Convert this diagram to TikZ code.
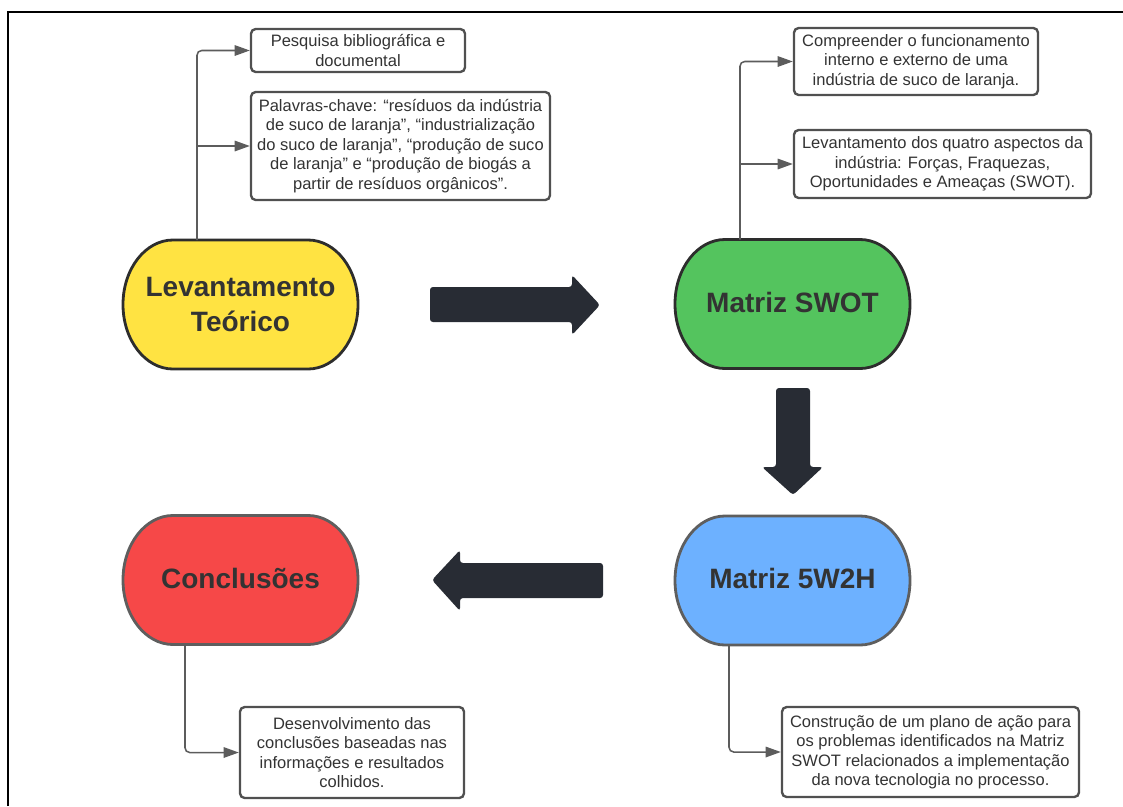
\documentclass[tikz,border=0pt]{standalone}
\usepackage{fontspec}
\setmainfont{Liberation Sans}
\usetikzlibrary{arrows.meta,calc,backgrounds}
\definecolor{ylw}{HTML}{FFE342}
\definecolor{grn}{HTML}{54C45E}
\definecolor{blu}{HTML}{6DB1FF}
\definecolor{rd}{HTML}{F64848}
\definecolor{darkborder}{HTML}{2D2D2D}
\definecolor{grayborder}{HTML}{5E5E5E}
\definecolor{txt}{HTML}{333333}
\definecolor{boxgray}{HTML}{505050}
\definecolor{conngray}{HTML}{5C5C5C}
\definecolor{arrowdark}{HTML}{282C34}
\newcommand\termbg[3]{%
  \begin{pgfonlayer}{background}
  \filldraw[fill=#2,draw=#3,line width=2.4pt]
    ($(#1.north west)+(50,0)$) -- ($(#1.north east)+(-50,0)$)
    arc[start angle=90,end angle=-90,x radius=1.5cm,y radius=1.935cm]
    -- ($(#1.south west)+(50,0)$)
    arc[start angle=270,end angle=90,x radius=1.5cm,y radius=1.935cm] -- cycle;
  \end{pgfonlayer}}
\begin{document}
\begin{tikzpicture}[x=0.03cm,y=-0.03cm,
  smallbox/.style={draw=boxgray,line width=2pt,rounded corners=4pt,fill=white,text=txt,
    align=center,font=\fontsize{14.1}{16.6}\selectfont,inner sep=0pt},
  big/.style={text=txt,align=center,font=\bfseries\fontsize{23.9}{29.9}\selectfont,
    inner sep=0pt,outer sep=0pt,minimum width=7.05cm,minimum height=3.87cm},
  conn/.style={draw=conngray,line width=1.3pt,rounded corners=4pt,
    -{Triangle[length=13pt,width=9pt]}},
  blockarrow/.style={fill=arrowdark,rounded corners=2.5pt},
]
\useasboundingbox (0,0) rectangle (1123,806);
\draw[line width=1.7pt] (8,806) -- (8,12) -- (1123,12);

% main stages
\node[big] (yel) at (240.5,304.5) {Levantamento\\Teórico};
\node[big] (gre) at (792.5,304) {\raisebox{3.4pt}{Matriz SWOT}};
\node[big] (blue) at (792.5,580.5) {\raisebox{3pt}{Matriz 5W2H}};
\node[big] (red) at (240.5,580) {\raisebox{3.4pt}{Conclusões}};
\termbg{yel}{ylw}{darkborder}
\termbg{gre}{grn}{darkborder}
\termbg{blue}{blu}{grayborder}
\termbg{red}{rd}{grayborder}

% detail boxes
\node[smallbox,minimum width=6.42cm,minimum height=1.29cm] (b1) at (358,50.5)
  {Pesquisa bibliográfica e\\documental};
\node[smallbox,minimum width=8.97cm,minimum height=3.24cm] (b2) at (400.5,146)
  {Palavras-chave: “resíduos da indústria\\de suco de laranja”, “industrialização\\do suco de laranja”, “produção de suco\\de laranja” e “produção de biogás a\\partir de resíduos orgânicos”.};
\node[smallbox,minimum width=7.32cm,minimum height=2.01cm] (b3) at (916,61.5)
  {Compreender o funcionamento\\interno e externo de uma\\indústria de suco de laranja.};
\node[smallbox,minimum width=8.91cm,minimum height=2.04cm] (b4) at (942.5,164)
  {Levantamento dos quatro aspectos da\\indústria: Forças, Fraquezas,\\Oportunidades e Ameaças (SWOT).};
\node[smallbox,minimum width=6.72cm,minimum height=2.73cm] (b5) at (352,752.5)
  {Desenvolvimento das\\conclusões baseadas nas\\informações e resultados\\colhidos.};
\node[smallbox,minimum width=8.91cm,minimum height=2.7cm] (b6) at (930.5,752)
  {Construção de um plano de ação para\\os problemas identificados na Matriz\\SWOT relacionados a implementação\\da nova tecnologia no processo.};

% connectors
\coordinate (s1) at ($(yel.north)+(-43.5,0)$);
\coordinate (s2) at ($(gre.north)+(-52.5,0)$);
\coordinate (s3) at ($(red.south)+(-55.5,0)$);
\coordinate (s4) at ($(blue.south)+(-63.5,0)$);
\draw[conn] (s1) |- (b1.west);
\draw[conn] (s1 |- b2.west) -- (b2.west);
\draw[conn] (s2) |- (b3.west);
\draw[conn] (s2 |- b4.west) -- (b4.west);
\draw[conn] (s3) |- (b5.west);
\draw[conn] (s4) |- (b6.west);

% block arrows
\fill[blockarrow] (430,287) -- (572,287) -- (572,275) -- (600,305) -- (572,335) -- (572,322) -- (430,322) -- cycle;
\fill[blockarrow] (776,388) -- (810,388) -- (810,467) -- (823,467) -- (793,495) -- (762,467) -- (776,467) -- cycle;
\fill[blockarrow] (603,563) -- (460,563) -- (460,550) -- (432,580) -- (460,611) -- (460,598) -- (603,598) -- cycle;
\end{tikzpicture}
\end{document}
